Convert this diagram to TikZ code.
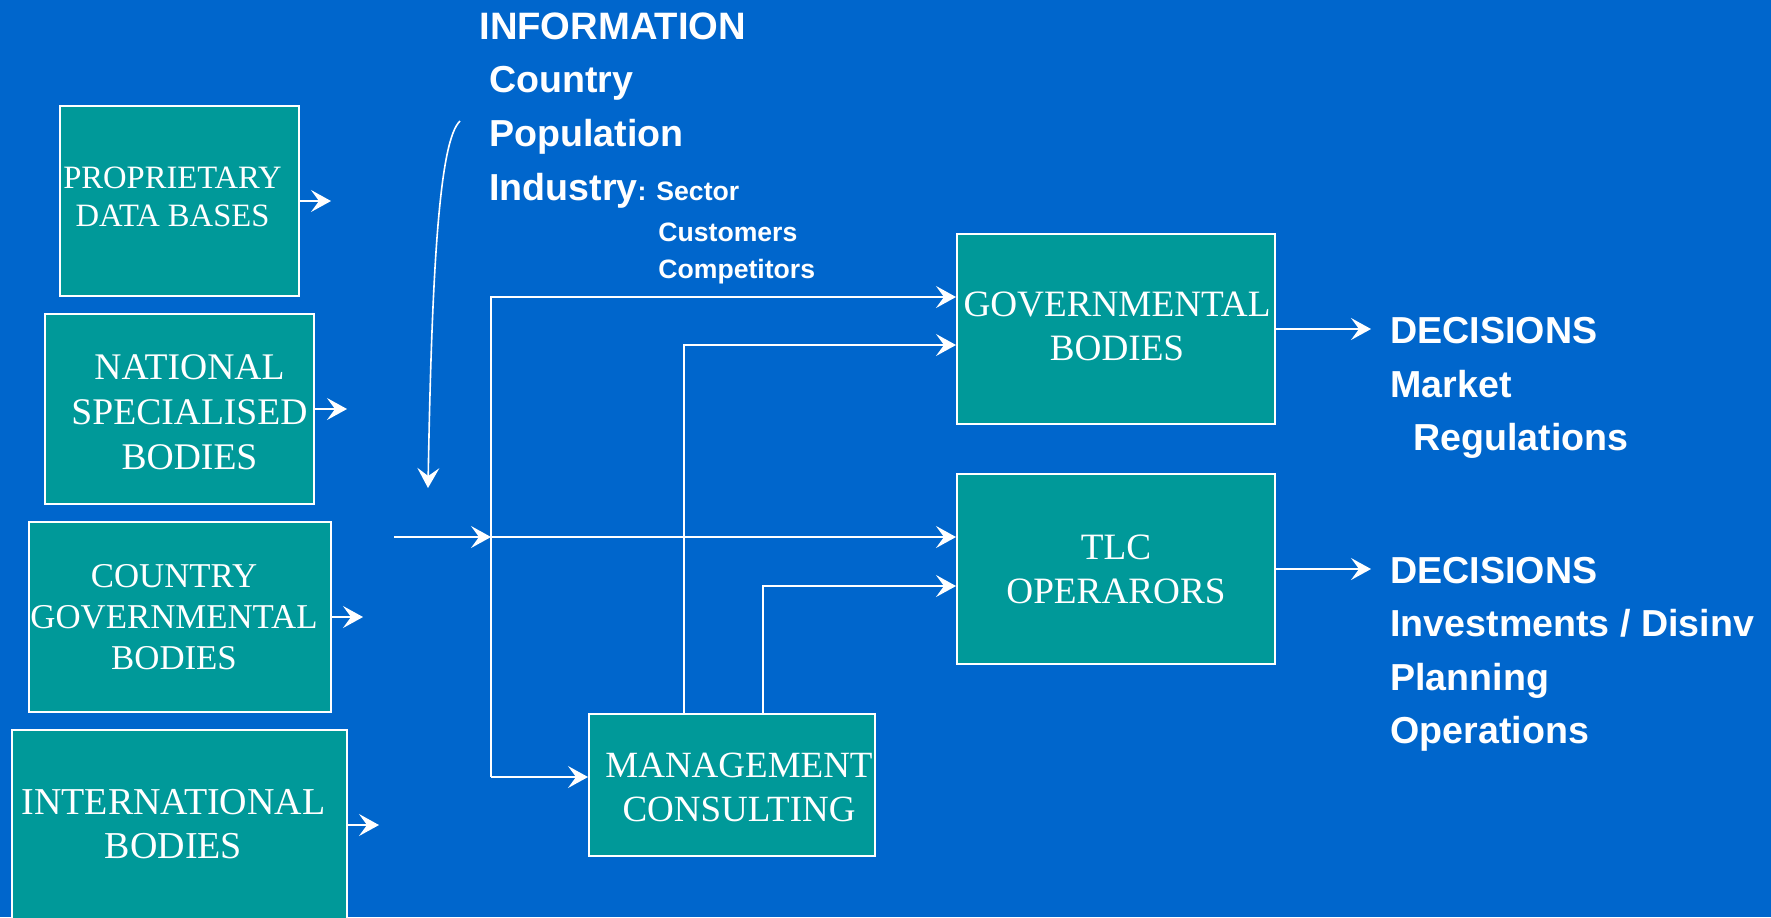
\documentclass[tikz,border=0pt]{standalone}
\usepackage{fontspec}
\setmainfont{Liberation Serif}
\setsansfont{Liberation Sans}
\usetikzlibrary{arrows.meta}
\definecolor{bgblue}{RGB}{0,102,204}
\definecolor{boxteal}{RGB}{0,153,153}
\begin{document}
\begin{tikzpicture}[x=0.5pt,y=-0.5pt,
  box/.style={draw=white, line width=1pt, fill=boxteal, inner sep=0pt},
  bt/.style={text=white, align=center, inner sep=0pt},
  conn/.style={white, line width=0.8pt, line join=miter, -{Stealth[length=10pt,width=11pt,inset=4pt]}},
  lbl/.style={text=white, font=\sffamily\bfseries\fontsize{18.8pt}{22pt}\selectfont, anchor=base west, inner sep=0pt},
  slbl/.style={text=white, font=\sffamily\bfseries\fontsize{13.3pt}{15pt}\selectfont, anchor=base west, inner sep=0pt}]
\useasboundingbox (0,0) rectangle (1771,917);
\clip (0,0) rectangle (1771,917);
\fill[bgblue] (0,0) rectangle (1771,917);

% source boxes
\node[box, minimum width=119.5pt, minimum height=95pt,
  label={[bt, xshift=-3.5pt, yshift=2.3pt, font=\fontsize{16.3pt}{19pt}\selectfont]center:PROPRIETARY\\DATA BASES}] (prop) at (179.5,201) {};
\node[box, minimum width=134.5pt, minimum height=95pt,
  label={[bt, xshift=5pt, yshift=-1.6pt, font=\fontsize{18.8pt}{22.5pt}\selectfont]center:NATIONAL\\SPECIALISED\\BODIES}] (nat) at (179.5,409) {};
\node[box, minimum width=151pt, minimum height=95pt,
  label={[bt, xshift=-3pt, font=\fontsize{17.4pt}{20.5pt}\selectfont]center:COUNTRY\\GOVERNMENTAL\\BODIES}] (cgb) at (180,617) {};
\node[box, minimum width=167.5pt, minimum height=95pt,
  label={[bt, xshift=-3pt, yshift=0.5pt, font=\fontsize{19pt}{22pt}\selectfont]center:INTERNATIONAL\\BODIES}] (intl) at (179.5,825) {};

% target boxes
\node[box, minimum width=143pt, minimum height=71pt,
  label={[bt, xshift=3.5pt, yshift=-1.3pt, font=\fontsize{18.5pt}{22pt}\selectfont]center:MANAGEMENT\\CONSULTING}] (mc) at (732,785) {};
\node[box, minimum width=159pt, minimum height=95pt,
  label={[bt, xshift=0.5pt, yshift=1.3pt, font=\fontsize{18.6pt}{22pt}\selectfont]center:GOVERNMENTAL\\BODIES}] (gov) at (1116,329) {};
\node[box, minimum width=159pt, minimum height=95pt,
  label={[bt, font=\fontsize{18.6pt}{22pt}\selectfont]center:TLC\\OPERARORS}] (tlc) at (1116,569) {};

% free ends
\coordinate (p1) at (331,201);
\coordinate (p2) at (347,409);
\coordinate (p3) at (363,617);
\coordinate (p4) at (379,825);
\coordinate (in) at (394,537);
\coordinate (j) at (491,537);
\coordinate (ttop) at (491,297);
\coordinate (tbot) at (491,777);
\coordinate (v1) at (684,345);
\coordinate (v2) at (763,586);
\coordinate (d1) at (1371,329);
\coordinate (d2) at (1371,569);
\coordinate (c0) at (460,121);
\coordinate (c1) at (428,488);

\draw[conn] (prop.east |- p1) -- (p1);
\draw[conn] (nat.east |- p2) -- (p2);
\draw[conn] (cgb.east |- p3) -- (p3);
\draw[conn] (intl.east |- p4) -- (p4);

\draw[conn] (in) -- (j);
\draw[conn] (j) -- (j -| tlc.west);
\draw[conn] (tbot) -- (ttop) -- (ttop -| gov.west);
\draw[conn] (tbot) -- (tbot -| mc.west);
\draw[conn] (mc.north -| v1) -- (v1) -- (v1 -| gov.west);
\draw[conn] (mc.north -| v2) -- (v2) -- (v2 -| tlc.west);
\draw[conn] (gov.east) -- (d1);
\draw[conn] (tlc.east) -- (d2);
\draw[conn] (c0) .. controls (440,140) and (432,260) .. (c1);

% information text
\node[lbl, font=\sffamily\bfseries\fontsize{19.1pt}{22pt}\selectfont] (info) at (479,39) {INFORMATION};
\node[lbl] (country) at (489,92) {Country};
\node[lbl] (pop) at (489,146) {Population};
\node[lbl] (ind) at (489,200) {Industry{\fontsize{13.3pt}{15pt}\selectfont: Sector}};
\node[slbl] (cust) at (658,241) {Customers};
\node[slbl] (comp) at (658,278) {Competitors};

% decisions text
\node[lbl] (dec1) at (1390,343) {DECISIONS};
\node[lbl] (market) at (1390,397) {Market};
\node[lbl] (reg) at (1413,450) {Regulations};
\node[lbl] (dec2) at (1390,583) {DECISIONS};
\node[lbl] (inv) at (1390,636) {Investments / Disinv};
\node[lbl] (plan) at (1390,690) {Planning};
\node[lbl] (oper) at (1390,743) {Operations};
\end{tikzpicture}
\end{document}
